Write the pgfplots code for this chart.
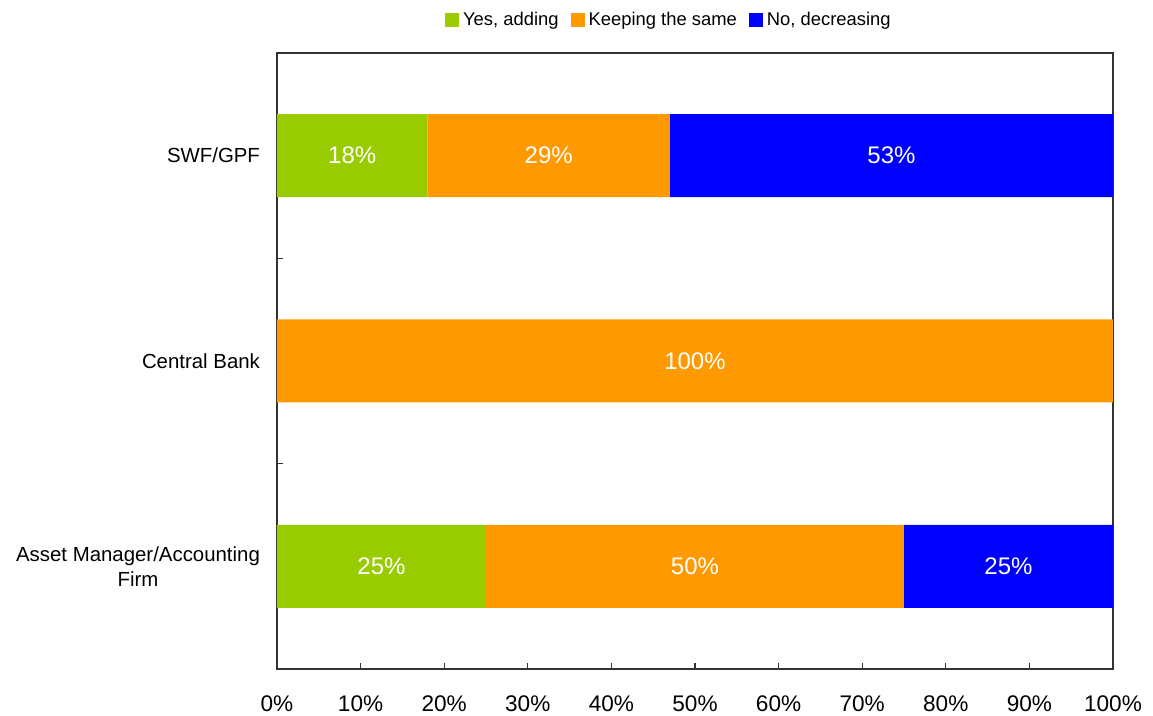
\documentclass[border=0pt]{standalone}
\usepackage{fontspec}
\setmainfont{Liberation Sans}
\usepackage{pgfplots}
\pgfplotsset{compat=1.18}
\definecolor{cgreen}{RGB}{153,204,0}
\definecolor{corange}{RGB}{255,153,0}
\definecolor{cblue}{RGB}{0,0,255}
\begin{document}
\begin{tikzpicture}
\useasboundingbox (-138.5pt,-23.5pt) rectangle (438pt,334.5pt);
\begin{axis}[
  at={(0,0)}, anchor=south west,
  scale only axis, width=418pt, height=308pt,
  xbar stacked, bar width=41.5pt,
  xmin=0, xmax=100, ymin=-0.5, ymax=2.5,
  axis line style={black!80, line width=0.6pt},
  xtick={0,10,...,100},
  xticklabel={\pgfmathprintnumber{\tick}\%},
  /pgf/number format/assume math mode=true,
  xticklabel style={font=\fontsize{11.3}{13}\selectfont, yshift=-10pt},
  tick align=inside, xtick pos=bottom, ytick pos=left,
  major tick length=3pt, minor tick length=3pt,
  ytick={0,1,2},
  yticklabels={{Asset Manager/Accounting\\Firm},Central Bank,SWF/GPF},
  yticklabel style={font=\fontsize{10.2}{12.5}\selectfont, align=center, xshift=-5pt},
  major y tick style={draw=none},
  minor ytick={0.5,1.5},
  tick style={black!80, line width=0.6pt},
  point meta=explicit symbolic,
  nodes near coords={\pgfplotspointmeta},
  every node near coord/.append style={anchor=center, text=white,
     font=\fontsize{12}{14}\selectfont},
  legend style={draw=none, at={(0.47,1)}, anchor=center, yshift=16.5pt,
     font=\fontsize{9.2}{11}\selectfont, legend columns=-1,
     /tikz/every even column/.append style={column sep=4pt},
     inner sep=0pt},
  legend image code/.code={\fill[#1] (0pt,-3.5pt) rectangle (7pt,3.5pt);},
]
\addplot[fill=cgreen, draw=none] coordinates {(18,2) [18\%] (0,1) [] (25,0) [25\%]};
\addplot[fill=corange, draw=none] coordinates {(29,2) [29\%] (100,1) [100\%] (50,0) [50\%]};
\addplot[fill=cblue, draw=none] coordinates {(53,2) [53\%] (0,1) [] (25,0) [25\%]};
\legend{{Yes, adding},{Keeping the same},{No, decreasing}}
\end{axis}
\end{tikzpicture}
\end{document}
